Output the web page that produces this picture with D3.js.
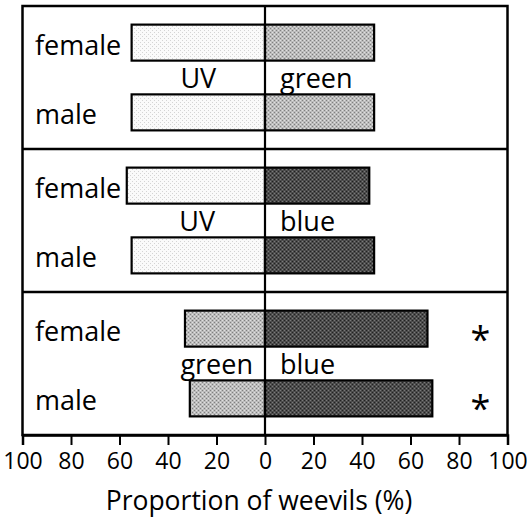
<!DOCTYPE html>
<html><head><meta charset="utf-8">
<script src="https://cdn.jsdelivr.net/npm/d3@7"></script>
<style>
html,body{margin:0;padding:0;background:#fff;}
svg text{font-family:"Open Sans",sans-serif;fill:#000;}
</style></head>
<body><svg id="c" width="527" height="518"></svg>
<script>
// ---- data ----
const panels = ["UV vs green", "UV vs blue", "green vs blue"];
const sexes = ["female", "male"];
const leftStimulus = ["UV", "UV", "green"];
const rightStimulus = ["green", "blue", "blue"];
const leftValues = [[55, 55], [57, 55], [33, 31]];
const rightValues = [[45, 45], [43, 45], [67, 69]];
const significant = [[false, false], [false, false], [true, true]];
const tickValues = [-100, -80, -60, -40, -20, 0, 20, 40, 60, 80, 100];
const axisTitle = "Proportion of weevils (%)";

(function () {
// ---- styles ----
const svg = d3.select("#c");
const defs = svg.append("defs");
function dither(id, bg, dot, dot2) {
  const p = defs.append("pattern").attr("id", id).attr("patternUnits", "userSpaceOnUse")
    .attr("width", 4).attr("height", 4);
  p.append("rect").attr("width", 4).attr("height", 4).attr("fill", bg);
  p.append("rect").attr("x", 0).attr("y", 0).attr("width", 1).attr("height", 1).attr("fill", dot);
  p.append("rect").attr("x", 2).attr("y", 2).attr("width", 1).attr("height", 1).attr("fill", dot);
  if (dot2) {
    p.append("rect").attr("x", 2).attr("y", 0).attr("width", 1).attr("height", 1).attr("fill", dot2);
    p.append("rect").attr("x", 0).attr("y", 2).attr("width", 1).attr("height", 1).attr("fill", dot2);
  }
}
dither("pUV", "#fafafa", "#d4d4d4", null);
dither("pgreen", "#bcbcbc", "#808080", "#e0e0e0");
dither("pblue", "#4c4c4c", "#222222", "#7a7a7a");
const stimFill = { UV: "url(#pUV)", green: "url(#pgreen)", blue: "url(#pblue)" };

// ---- scales ----
const mL = 22.5, mR = 507.5, mT = 6, mB = 435;
const x = d3.scaleLinear().domain([-100, 100]).range([mL, mR]);
const yPanel = d3.scaleBand().domain(panels).range([mT, mB]);
const ySex = d3.scalePoint().domain(sexes).range([0, yPanel.bandwidth()]).padding(0.525);
const barH = 36;

const g = svg.append("g");

panels.forEach((pn, i) => {
  const py = yPanel(pn);
  const pg = g.append("g").attr("transform", `translate(0,${py})`);
  sexes.forEach((s, j) => {
    const cy = ySex(s);
    const lv = leftValues[i][j], rv = rightValues[i][j];
    pg.append("rect").attr("x", x(-lv)).attr("y", cy - barH / 2)
      .attr("width", x(0) - x(-lv)).attr("height", barH)
      .attr("fill", stimFill[leftStimulus[i]]).attr("stroke", "#000").attr("stroke-width", 2.2);
    pg.append("rect").attr("x", x(0)).attr("y", cy - barH / 2)
      .attr("width", x(rv) - x(0)).attr("height", barH)
      .attr("fill", stimFill[rightStimulus[i]]).attr("stroke", "#000").attr("stroke-width", 2.2);
    pg.append("text").attr("x", mL + 12.5).attr("y", cy + 12)
      .attr("font-size", 27).text(s);
    if (significant[i][j]) {
      pg.append("text").attr("x", x(100) - 27).attr("y", cy + 23)
        .attr("text-anchor", "middle").attr("font-size", 36).attr("font-family", "DejaVu Sans")
        .text("*");
    }
  });
  // stimulus labels
  const labY = (ySex(sexes[0]) + ySex(sexes[1])) / 2 + 10;
  const meanLeft = d3.mean(leftValues[i]);
  const lt = pg.append("text").attr("y", labY).attr("font-size", 27).attr("text-anchor", "middle")
    .text(leftStimulus[i]);
  const w = lt.node().getComputedTextLength();
  let cx = (x(0) + x(-meanLeft)) / 2;
  if (cx + w / 2 > x(0) - 12) cx = x(0) - 12 - w / 2;
  lt.attr("x", cx);
  pg.append("text").attr("x", x(0) + 15).attr("y", labY).attr("font-size", 27)
    .text(rightStimulus[i]);
});

// panel separators
g.selectAll("line.sep").data(panels.slice(1)).join("line").attr("class", "sep")
  .attr("x1", mL).attr("x2", mR).attr("y1", d => yPanel(d)).attr("y2", d => yPanel(d))
  .attr("stroke", "#000").attr("stroke-width", 2.5);

// frame
g.append("rect").attr("x", mL).attr("y", mT).attr("width", mR - mL).attr("height", mB - mT)
  .attr("fill", "none").attr("stroke", "#000").attr("stroke-width", 2.5);

// zero line
g.append("line").attr("x1", x(0)).attr("x2", x(0)).attr("y1", mT).attr("y2", mB)
  .attr("stroke", "#000").attr("stroke-width", 2.2);

// axis
const axis = d3.axisBottom(x).tickValues(tickValues).tickSize(10).tickPadding(8)
  .tickFormat(d => Math.abs(d));
const ax = svg.append("g").attr("transform", `translate(0,${mB})`).call(axis);
ax.select(".domain").attr("stroke-width", 2.5).attr("stroke", "#000");
ax.selectAll(".tick line").attr("stroke-width", 2).attr("stroke", "#000");
ax.selectAll(".tick text").attr("font-size", 23).attr("font-family", "Open Sans")
  .attr("dy", "0.71em");

svg.append("text").attr("x", (mL + mR) / 2 - 6).attr("y", 510)
  .attr("text-anchor", "middle").attr("font-size", 26.5).text(axisTitle);
})();
</script></body></html>
